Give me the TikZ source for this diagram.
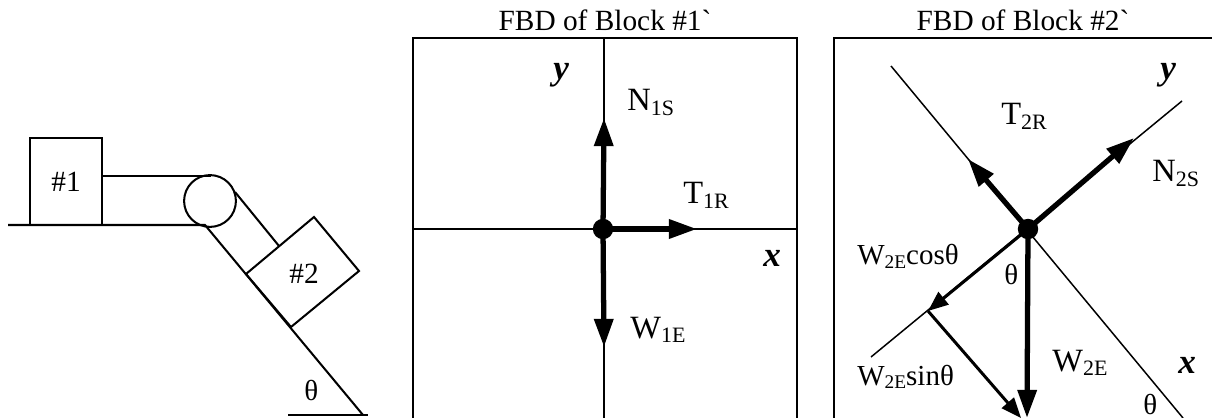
\documentclass[tikz,border=0pt]{standalone}
\usepackage{fontspec}
\setmainfont{Liberation Serif}[Ligatures=TeXOff]
\usetikzlibrary{arrows.meta}
\newcommand{\lowidx}[1]{\raisebox{-0.32ex}{\fontsize{12.5}{12}\selectfont #1}}
\newcommand{\lowpart}[1]{\raisebox{-0.3ex}{\fontsize{11}{12}\selectfont #1}}
\tikzset{
  outline/.style={line width=1.15pt},
  axis/.style={line width=0.85pt},
  force/.style={line width=3pt,-{Triangle[length=16pt,width=10.5pt]}},
  part/.style={line width=1.7pt,-{Triangle[length=11.5pt,width=9pt]}},
  dot/.style={circle,fill=black,inner sep=0pt,minimum size=11.6pt},
  lab/.style={anchor=base west,inner sep=0pt,font=\fontsize{18.5}{20}\selectfont},
  partlab/.style={anchor=base west,inner sep=0pt,font=\fontsize{16.5}{18}\selectfont},
  axlab/.style={anchor=base west,inner sep=0pt,font=\fontsize{20}{22}\selectfont\bfseries\itshape},
  tag/.style={inner sep=0pt,font=\fontsize{16.7}{18}\selectfont}
}
\begin{document}
\begin{tikzpicture}[x=0.02cm,y=-0.02cm]
      \useasboundingbox (0,0) rectangle (1212,418);
      \clip (0,0) rectangle (1212,418);
      % incline and blocks
      \coordinate (gl) at (8,225);
      \coordinate (gr) at (205,225);
      \coordinate (il) at (363,415);
      \coordinate (bl) at (288,415);
      \coordinate (br) at (368,415);
      \draw[outline] (gl) -- (gr) -- (il);
      \draw[outline] (bl) -- (br);
      \node[draw,outline,tag,minimum width=40.8pt,minimum height=49.3pt] (blockone) at (66,181.5) {\#1};
      \node[draw,outline,circle,inner sep=0pt,minimum size=29.5pt] (pulley) at (210,201) {};
      \coordinate (ropea) at (211,176);
      \coordinate (ropeb) at (235,192);
      \coordinate (ropec) at (279,246);
      \draw[outline] (blockone.east |- ropea) -- (ropea);
      \draw[outline] (ropeb) -- (ropec);
      \draw[outline] (246,274) -- (314,217) -- (359,271) -- (291,327) -- cycle;
      \node[tag] (blocktwo) at (304,274) {\#2};
      \node[partlab] (angleA) at (304,400) {θ};
      % first FBD
      \node[tag] (titleone) at (605,20) {FBD of Block \#1`};
      \draw[outline] (413,418) -- (413,38) -- (797,38) -- (797,418);
      \coordinate (yonetop) at (604,38);
      \coordinate (yonebot) at (604,418);
      \coordinate (xonel) at (413,229);
      \coordinate (xoner) at (797,229);
      \draw[axis] (yonetop) -- (yonebot);
      \draw[axis] (xonel) -- (xoner);
      \node[dot] (cone) at (603,229) {};
      \coordinate (none) at (604,118);
      \coordinate (tone) at (697,229);
      \coordinate (wone) at (604,347);
      \draw[force] (cone.center) -- (none);
      \draw[force] (cone.center) -- (tone);
      \draw[force] (cone.center) -- (wone);
      \node[lab] (nonelab) at (627,111) {N\lowidx{1S}};
      \node[lab] (tonelab) at (683,204) {T\lowidx{1R}};
      \node[lab] (wonelab) at (630,338) {W\lowidx{1E}};
      \node[axlab] (yonelab) at (553,80) {y};
      \node[axlab] (xonelab) at (763,267) {x};
      % second FBD
      \node[tag] (titletwo) at (1023,20) {FBD of Block \#2`};
      \draw[outline] (834,418) -- (834,38) -- (1212,38);
      \coordinate (xtwoa) at (891,66);
      \coordinate (xtwob) at (1183,418);
      \coordinate (ytwoa) at (1182,101);
      \coordinate (ytwob) at (871,357);
      \draw[axis] (xtwoa) -- (xtwob);
      \draw[axis] (ytwoa) -- (ytwob);
      \node[dot] (ctwo) at (1028,229) {};
      \coordinate (ntwo) at (1134,138);
      \coordinate (ttwo) at (968,159);
      \coordinate (wtwo) at (1027,418);
      \coordinate (wcos) at (928,311);
      \coordinate (wsin) at (1021,418);
      \draw[force] (ctwo.center) -- (ntwo);
      \draw[force] (ctwo.center) -- (ttwo);
      \draw[force] (ctwo.center) -- (wtwo);
      \draw[part] (ctwo.center) -- (wcos);
      \draw[part] (wcos) -- (wsin);
      \node[lab] (ntwolab) at (1152,182) {N\lowidx{2S}};
      \node[lab] (ttwolab) at (1001,125) {T\lowidx{2R}};
      \node[lab] (wtwolab) at (1052,371) {W\lowidx{2E}};
      \node[partlab] (wcoslab) at (857,265) {W\lowpart{2E}cosθ};
      \node[partlab] (wsinlab) at (857,385) {W\lowpart{2E}sinθ};
      \node[partlab] (angleB) at (1004,284) {θ};
      \node[partlab] (angleC) at (1143,414) {θ};
      \node[axlab] (ytwolab) at (1160,80) {y};
      \node[axlab] (xtwolab) at (1178,373) {x};
    \end{tikzpicture}
\end{document}
